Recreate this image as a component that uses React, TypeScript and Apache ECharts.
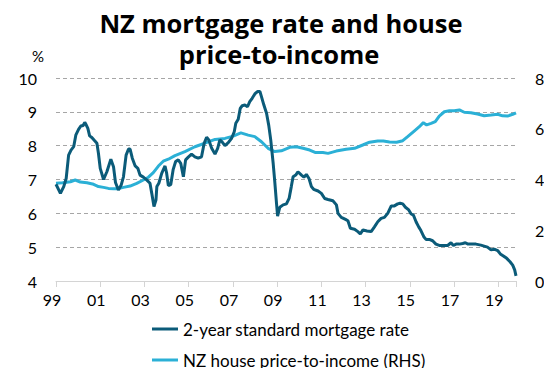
import React, { useEffect, useRef } from "react";
import * as echarts from "echarts";

const mortgageYears = [
  1999.0, 1999.2, 1999.35, 1999.46, 1999.57, 1999.68, 1999.8, 1999.9, 2000.02, 2000.13,
  2000.22, 2000.3, 2000.37, 2000.44, 2000.52, 2000.62, 2000.74, 2000.85, 2000.92, 2001.0,
  2001.15, 2001.3, 2001.48, 2001.6, 2001.69, 2001.82, 2001.95, 2002.05, 2002.17, 2002.28,
  2002.35, 2002.45, 2002.58, 2002.7, 2002.8, 2002.95, 2003.1, 2003.25, 2003.33, 2003.43,
  2003.52, 2003.56, 2003.65, 2003.78, 2003.93, 2004.0, 2004.08, 2004.19, 2004.3, 2004.41,
  2004.53, 2004.64, 2004.76, 2004.86, 2004.98, 2005.13, 2005.28, 2005.43, 2005.58, 2005.7,
  2005.81, 2005.91, 2006.04, 2006.19, 2006.31, 2006.41, 2006.5, 2006.64, 2006.79, 2006.94,
  2007.06, 2007.13, 2007.24, 2007.33, 2007.42, 2007.54, 2007.66, 2007.76, 2007.87, 2007.99,
  2008.11, 2008.22, 2008.29, 2008.4, 2008.52, 2008.62, 2008.71, 2008.82, 2008.89, 2008.97,
  2009.02, 2009.12, 2009.27, 2009.42, 2009.54, 2009.64, 2009.72, 2009.84, 2009.94, 2010.1,
  2010.21, 2010.32, 2010.44, 2010.55, 2010.65, 2010.85, 2011.0, 2011.15, 2011.3, 2011.52,
  2011.68, 2011.75, 2011.9, 2012.09, 2012.2, 2012.31, 2012.5, 2012.65, 2012.76, 2012.88,
  2013.06, 2013.25, 2013.4, 2013.55, 2013.7, 2013.85, 2014.0, 2014.16, 2014.3, 2014.45,
  2014.56, 2014.68, 2014.8, 2014.95, 2015.06, 2015.16, 2015.28, 2015.4, 2015.5, 2015.63,
  2015.73, 2015.88, 2016.03, 2016.18, 2016.33, 2016.56, 2016.71, 2016.86, 2016.97, 2017.09,
  2017.24, 2017.39, 2017.51, 2017.63, 2017.76, 2017.99, 2018.21, 2018.36, 2018.51, 2018.67,
  2018.82, 2018.97, 2019.09, 2019.23, 2019.38, 2019.53, 2019.65, 2019.74, 2019.8,
];
const mortgageRates = [
  6.86, 6.59, 6.79, 7.03, 7.72, 7.87, 7.97, 8.32, 8.48, 8.59,
  8.59, 8.69, 8.61, 8.51, 8.29, 8.24, 8.15, 8.07, 7.77, 7.33,
  7.0, 7.23, 7.6, 7.38, 6.91, 6.69, 6.84, 7.08, 7.72, 7.9,
  7.9, 7.63, 7.4, 7.33, 7.13, 7.07, 6.99, 6.89, 6.59, 6.2,
  6.39, 6.79, 6.89, 7.18, 7.4, 7.2, 6.82, 6.85, 7.3, 7.53,
  7.58, 7.48, 7.08, 7.58, 7.66, 7.75, 7.67, 7.63, 7.67, 8.07,
  8.25, 8.17, 7.92, 7.75, 7.92, 8.17, 8.12, 8.0, 8.09, 8.22,
  8.41, 8.66, 8.78, 9.1, 9.18, 9.2, 9.15, 9.3, 9.4, 9.53,
  9.6, 9.6, 9.45, 9.2, 8.96, 8.6, 8.17, 7.48, 6.95, 6.3,
  5.92, 6.18, 6.25, 6.28, 6.44, 6.79, 7.08, 7.13, 7.23, 7.13,
  7.07, 7.15, 7.03, 6.79, 6.71, 6.66, 6.59, 6.44, 6.41, 6.37,
  6.25, 6.0, 5.88, 5.82, 5.78, 5.56, 5.53, 5.46, 5.39, 5.51,
  5.48, 5.46, 5.6, 5.75, 5.85, 5.88, 6.0, 6.22, 6.22, 6.28,
  6.3, 6.28, 6.18, 6.1, 5.98, 5.95, 5.75, 5.6, 5.49, 5.31,
  5.23, 5.23, 5.19, 5.09, 5.05, 5.05, 5.05, 5.13, 5.05, 5.09,
  5.09, 5.11, 5.13, 5.09, 5.09, 5.09, 5.06, 5.03, 5.0, 4.92,
  4.94, 4.9, 4.8, 4.74, 4.67, 4.57, 4.47, 4.33, 4.15,
];

const ptiYears = [
  1999.0, 1999.3, 1999.65, 1999.87, 2000.1, 2000.4, 2000.7, 2000.92, 2001.15, 2001.37,
  2001.6, 2001.82, 2002.05, 2002.35, 2002.65, 2002.95, 2003.18, 2003.4, 2003.63, 2003.85,
  2004.08, 2004.38, 2004.83, 2005.28, 2005.73, 2006.19, 2006.64, 2007.01, 2007.36, 2007.69,
  2007.99, 2008.29, 2008.59, 2008.89, 2009.19, 2009.57, 2009.87, 2010.17, 2010.47, 2010.74,
  2011.07, 2011.3, 2011.67, 2012.12, 2012.5, 2012.87, 2013.18, 2013.55, 2013.8, 2014.08,
  2014.4, 2014.68, 2014.9, 2015.21, 2015.43, 2015.61, 2015.76, 2015.96, 2016.15, 2016.33,
  2016.56, 2016.79, 2017.01, 2017.24, 2017.46, 2017.76, 2018.06, 2018.36, 2018.67, 2018.97,
  2019.19, 2019.42, 2019.65, 2019.8,
];
const ptiValues = [
  3.85, 3.87, 3.91, 3.98, 3.9, 3.87, 3.81, 3.72, 3.69, 3.65,
  3.64, 3.64, 3.69, 3.74, 3.85, 3.98, 4.09, 4.27, 4.53, 4.72,
  4.8, 4.94, 5.1, 5.29, 5.43, 5.58, 5.62, 5.71, 5.84, 5.75,
  5.69, 5.49, 5.23, 5.1, 5.13, 5.27, 5.29, 5.23, 5.16, 5.06,
  5.06, 5.03, 5.12, 5.19, 5.23, 5.36, 5.47, 5.52, 5.52, 5.48,
  5.47, 5.53, 5.69, 5.92, 6.08, 6.24, 6.15, 6.21, 6.28, 6.5,
  6.67, 6.71, 6.71, 6.74, 6.65, 6.63, 6.58, 6.51, 6.54, 6.57,
  6.51, 6.5, 6.57, 6.63,
];

const titleLines = ["NZ mortgage rate and house", "price-to-income"];
const seriesNames = ["2-year standard mortgage rate", "NZ house price-to-income (RHS)"];

const DARK = "#0b5b79";
const LIGHT = "#2bb0d6";
const FONT = "Lato";

export default function App() {
  const ref = useRef<HTMLDivElement>(null);
  useEffect(() => {
    if (!ref.current) return;
    const chart = echarts.init(ref.current, null, { renderer: "svg" });
    const mortgageData = mortgageYears.map((y, i) => [y, mortgageRates[i]]);
    const ptiData = ptiYears.map((y, i) => [y, ptiValues[i]]);
    chart.setOption({
      animation: false,
      backgroundColor: "#ffffff",
      textStyle: { fontFamily: FONT },
      graphic: [
        {
          type: "text",
          x: 281,
          y: 23,
          style: {
            text: titleLines[0],
            textAlign: "center",
            textVerticalAlign: "middle",
            fontFamily: "Open Sans",
            fontWeight: "bold",
            fontSize: 25.5,
            fill: "#000",
          },
        },
        {
          type: "text",
          x: 279,
          y: 54,
          style: {
            text: titleLines[1],
            textAlign: "center",
            textVerticalAlign: "middle",
            fontFamily: "Open Sans",
            fontWeight: "bold",
            fontSize: 25.5,
            fill: "#000",
          },
        },
        {
          type: "text",
          x: 32,
          y: 48,
          style: { text: "%", fontFamily: FONT, fontSize: 15, fill: "#000" },
        },
      ],
      grid: { left: 56, right: 36, top: 78, bottom: 95, containLabel: false },
      legend: {
        orient: "vertical",
        left: 152,
        top: 319,
        padding: 0,
        itemWidth: 26,
        itemHeight: 3,
        itemGap: 11,
        icon: "rect",
        textStyle: { fontFamily: FONT, fontSize: 17, color: "#000", lineHeight: 20 },
        data: seriesNames,
      },
      xAxis: {
        type: "value",
        min: 1999,
        max: 2019.8,
        interval: 2,
        axisLine: { show: true, lineStyle: { color: "#d4d4d4", width: 1 } },
        axisTick: { show: true, length: 6, lineStyle: { color: "#d4d4d4" } },
        axisLabel: {
          margin: 10,
          fontFamily: FONT,
          fontSize: 16,
          color: "#000",
          padding: [0, 8, 0, 0],
          hideOverlap: false,
          formatter: (v: number) =>
            Math.abs(v - Math.round(v)) > 0.01 ? "" : String(Math.round(v) % 100).padStart(2, "0"),
        },
        splitLine: { show: false },
      },
      yAxis: [
        {
          type: "value",
          min: 4,
          max: 10,
          interval: 1,
          axisLine: { show: false },
          axisTick: { show: false },
          axisLabel: { margin: 19, fontFamily: FONT, fontSize: 16, color: "#000" },
          splitLine: { show: true, lineStyle: { color: "#a6a6a6", type: [4, 3], width: 1 } },
        },
        {
          type: "value",
          min: 0,
          max: 8,
          interval: 2,
          position: "right",
          axisLine: { show: false },
          axisTick: { show: false },
          axisLabel: { margin: 19, fontFamily: FONT, fontSize: 16, color: "#000" },
          splitLine: { show: false },
        },
      ],
      series: [
        {
          name: seriesNames[0],
          type: "line",
          yAxisIndex: 0,
          data: mortgageData,
          symbol: "none",
          lineStyle: { color: DARK, width: 3 },
          itemStyle: { color: DARK },
          z: 3,
        },
        {
          name: seriesNames[1],
          type: "line",
          yAxisIndex: 1,
          data: ptiData,
          symbol: "none",
          lineStyle: { color: LIGHT, width: 3 },
          itemStyle: { color: LIGHT },
          z: 2,
        },
      ],
    });
    return () => chart.dispose();
  }, []);
  return <div ref={ref} style={{ width: 552, height: 376, margin: -8 }} />;
}
